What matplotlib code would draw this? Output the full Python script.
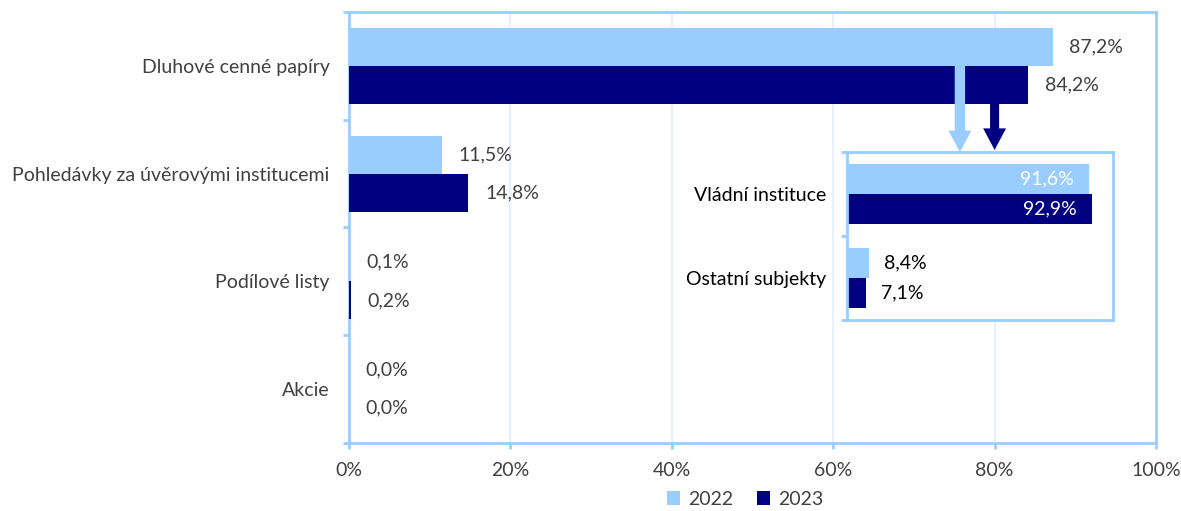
import matplotlib
matplotlib.use("Agg")
import matplotlib.pyplot as plt
import numpy as np

# ---- data ----
categories = ["Dluhové cenné papíry", "Pohledávky za úvěrovými institucemi", "Podílové listy", "Akcie"]
values_2022 = [87.2, 11.5, 0.1, 0.0]
values_2023 = [84.2, 14.8, 0.2, 0.0]
inset_categories = ["Vládní instituce", "Ostatní subjekty"]
inset_2022 = [91.6, 8.4]
inset_2023 = [92.9, 7.1]
x_ticks = [0, 20, 40, 60, 80, 100]
series_labels = ["2022", "2023"]

# ---- style ----
C22 = "#99ccff"
C23 = "#000080"
FRAME = "#99ccff"
GRID = "#e8f1fb"
TXT = "#404040"
FONT = ["Lato", "DejaVu Sans"]
FS = 14

plt.rcParams["font.family"] = FONT

def fmt(v):
    return f"{v:.1f}%".replace(".", ",")

W, H = 1181, 511
fig = plt.figure(figsize=(W / 100, H / 100), dpi=100)

def fig_rect(l, t, r, b):
    return [l / W, 1 - b / H, (r - l) / W, (b - t) / H]

# ---- main axes ----
ax = fig.add_axes(fig_rect(349, 12, 1156, 443))
n = len(categories)
y = np.arange(n)
h = 0.353
b1 = ax.barh(y - h / 2, values_2022, height=h, color=C22, label=series_labels[0], zorder=3)
b2 = ax.barh(y + h / 2, values_2023, height=h, color=C23, label=series_labels[1], zorder=3)
ax.set_xlim(0, 100)
ax.set_ylim(n - 0.5, -0.5)

for yy, v in zip(y - h / 2, values_2022):
    ax.annotate(fmt(v), (v, yy), xytext=(12, 0), textcoords="offset points",
                va="center", ha="left", fontsize=FS, color=TXT)
for yy, v in zip(y + h / 2, values_2023):
    ax.annotate(fmt(v), (v, yy), xytext=(12, 0), textcoords="offset points",
                va="center", ha="left", fontsize=FS, color=TXT)

ax.set_xticks(x_ticks)
ax.set_xticklabels([f"{t}%" for t in x_ticks], fontsize=FS, color=TXT)
ax.set_yticks(y)
ax.set_yticklabels(categories, fontsize=FS, color=TXT)
ax.set_yticks(np.arange(-0.5, n, 1.0), minor=True)
ax.tick_params(axis="y", which="major", length=0, pad=14)
ax.tick_params(axis="y", which="minor", length=4.5, width=2, color=FRAME)
ax.tick_params(axis="x", which="major", length=4.5, width=2, color=FRAME, pad=9)
ax.grid(axis="x", color=GRID, lw=1.5, zorder=0)
for s in ax.spines.values():
    s.set_color(FRAME)
    s.set_linewidth(2)

# arrows from main bars down to the inset
ax.annotate("", xy=(75.7, 0.80), xytext=(75.7, 0.0),
            arrowprops=dict(color=C22, arrowstyle="simple,head_width=16.5,head_length=15.5,tail_width=7.5",
                            mutation_scale=1, shrinkA=0, shrinkB=0, lw=0),
            annotation_clip=False, zorder=5)
ax.annotate("", xy=(80.0, 0.78), xytext=(80.0, h),
            arrowprops=dict(color=C23, arrowstyle="simple,head_width=16.5,head_length=15.5,tail_width=6.5",
                            mutation_scale=1, shrinkA=0, shrinkB=0, lw=0),
            annotation_clip=False, zorder=5)

# ---- inset axes ----
ia = fig.add_axes(fig_rect(847, 152, 1113, 320))
m = len(inset_categories)
yi = np.arange(m)
hi = 0.357
ia.barh(yi - hi / 2, inset_2022, height=hi, color=C22)
ia.barh(yi + hi / 2, inset_2023, height=hi, color=C23)
ia.set_xlim(0, 100.8)
ia.set_ylim(m - 0.5, -0.5)
ia.set_xticks([])
ia.set_yticks(yi)
ia.set_yticklabels(inset_categories, fontsize=FS, color="#000000")
ia.set_yticks(np.arange(-0.5, m, 1.0), minor=True)
ia.tick_params(axis="y", which="major", length=0, pad=15)
ia.tick_params(axis="y", which="minor", length=4.5, width=2, color=FRAME)
for s in ia.spines.values():
    s.set_color(FRAME)
    s.set_linewidth(2)

for yy, v in zip(yi - hi / 2, inset_2022):
    if v > 50:
        ia.annotate(fmt(v), (v, yy), xytext=(-11, 0), textcoords="offset points",
                    va="center", ha="right", fontsize=FS, color="white")
    else:
        ia.annotate(fmt(v), (v, yy), xytext=(11, 0), textcoords="offset points",
                    va="center", ha="left", fontsize=FS, color="#000000")
for yy, v in zip(yi + hi / 2, inset_2023):
    if v > 50:
        ia.annotate(fmt(v), (v, yy), xytext=(-11, 0), textcoords="offset points",
                    va="center", ha="right", fontsize=FS, color="white")
    else:
        ia.annotate(fmt(v), (v, yy), xytext=(11, 0), textcoords="offset points",
                    va="center", ha="left", fontsize=FS, color="#000000")

# ---- legend ----
leg = fig.legend(handles=[b1, b2], labels=series_labels, loc="center",
                 bbox_to_anchor=(745 / W, 1 - 499 / H), ncol=2, frameon=False,
                 fontsize=FS, handlelength=0.7, handleheight=0.7,
                 handletextpad=0.4, columnspacing=1.2, borderpad=0)
for t in leg.get_texts():
    t.set_color(TXT)

fig.savefig("out.png", dpi=100)
